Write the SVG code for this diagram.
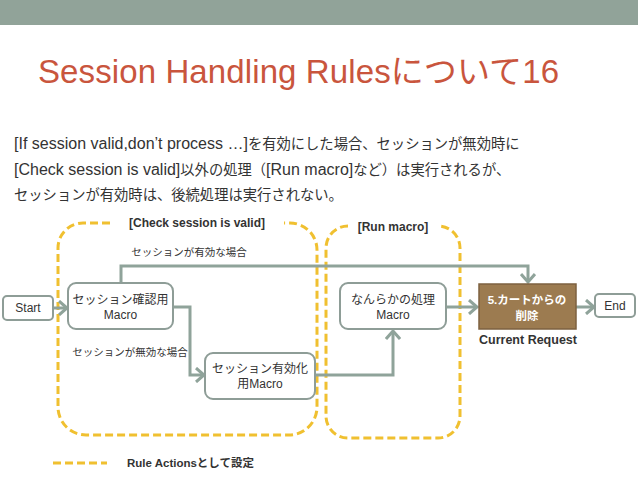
<svg xmlns="http://www.w3.org/2000/svg" width="638" height="479" viewBox="0 0 638 479">
<defs>
<style>
.t{font-family:"Liberation Sans","Noto Sans CJK JP",sans-serif;fill:#333}
.b{font-weight:bold}
.j{font-size:14.3px}
.node{fill:#fff;stroke:#8e9d97;stroke-width:2}
.conn{fill:none;stroke:#8fa39a;stroke-width:3}
.dash{fill:none;stroke:#f0c030;stroke-width:3;stroke-dasharray:8 4}
</style>
<marker id="ah" markerUnits="userSpaceOnUse" markerWidth="14" markerHeight="16" refX="10" refY="8" orient="auto">
<path d="M2,1 L10,8 L2,15" fill="none" stroke="#8fa39a" stroke-width="3"/>
</marker>
</defs>
<rect x="0" y="0" width="638" height="479" fill="#fff"/>
<rect x="0" y="0" width="638" height="25" fill="#91a399"/>
<text class="t" x="38" y="83" font-size="33" textLength="521" style="fill:#c9553d">Session Handling Rulesについて16</text>
<g class="t" font-size="16">
<text x="14" y="149">[If session valid,don’t process …]<tspan class="j">を有効にした場合、セッションが無効時に</tspan></text>
<text x="14" y="175">[Check session is valid]<tspan class="j">以外の処理（</tspan>[Run macro]<tspan class="j">など）は実行されるが、</tspan></text>
<text x="14" y="200" class="j">セッションが有効時は、後続処理は実行されない。</text>
</g>
<g id="groups">
<path class="dash" d="M110,223 H83 A25,25 0 0 0 58,248 V407 A28,28 0 0 0 86,435 H289 A28,28 0 0 0 317,407 V250 A27,27 0 0 0 290,223 H284"/>
<path class="dash" d="M348,226 A22,22 0 0 0 326,248 V416 A22,22 0 0 0 348,438 H438 A22,22 0 0 0 460,416 V248 A22,22 0 0 0 438,226"/>
<text class="t b" x="197" y="227" font-size="12" text-anchor="middle">[Check session is valid]</text>
<text class="t b" x="393" y="231" font-size="12" text-anchor="middle">[Run macro]</text>
</g>
<g id="connectors">
<path class="conn" d="M53,308 H67" marker-end="url(#ah)"/>
<path class="conn" d="M121,283 V266 H528 V282" marker-end="url(#ah)"/>
<path class="conn" d="M173,307 H190 V375 H204" marker-end="url(#ah)"/>
<path class="conn" d="M315,375 H393 V331" marker-end="url(#ah)"/>
<path class="conn" d="M446,307 H477" marker-end="url(#ah)"/>
<path class="conn" d="M576,307 H594" marker-end="url(#ah)"/>
<text class="t" x="189" y="256" font-size="10.5" text-anchor="middle">セッションが有効な場合</text>
<text class="t" x="130" y="356" font-size="10.5" text-anchor="middle">セッションが無効な場合</text>
</g>
<g id="start">
<rect class="node" x="3" y="296" width="50" height="24" rx="4"/>
<text class="t" x="28" y="312" font-size="12" text-anchor="middle">Start</text>
</g>
<g id="macro1">
<rect class="node" x="68" y="283" width="105" height="46" rx="8"/>
<text class="t" x="120.5" y="304" font-size="12" text-anchor="middle">セッション確認用</text>
<text class="t" x="120.5" y="319" font-size="12" text-anchor="middle">Macro</text>
</g>
<g id="macro2">
<rect class="node" x="205" y="353" width="110" height="46" rx="8"/>
<text class="t" x="260" y="373" font-size="12" text-anchor="middle">セッション有効化</text>
<text class="t" x="260" y="388" font-size="12" text-anchor="middle">用Macro</text>
</g>
<g id="macro3">
<rect class="node" x="340" y="283" width="106" height="46" rx="8"/>
<text class="t" x="393" y="304" font-size="12" text-anchor="middle">なんらかの処理</text>
<text class="t" x="393" y="319" font-size="12" text-anchor="middle">Macro</text>
</g>
<g id="delete">
<rect x="479" y="284" width="97" height="45" fill="#9c7b50" stroke="#7d6140" stroke-width="1.5"/>
<text class="t b" x="527" y="304" font-size="11.5" text-anchor="middle" style="fill:#fff">5.カートからの</text>
<text class="t b" x="527" y="320" font-size="11.5" text-anchor="middle" style="fill:#fff">削除</text>
<text class="t b" x="528" y="344" font-size="12.5" text-anchor="middle">Current Request</text>
</g>
<g id="end">
<rect class="node" x="595" y="294" width="40" height="23" rx="4"/>
<text class="t" x="615" y="310" font-size="12" text-anchor="middle">End</text>
</g>
<g id="legend">
<line class="dash" x1="53" y1="463" x2="107" y2="463"/>
<text class="t b" x="127" y="467" font-size="11.5">Rule Actionsとして設定</text>
</g>
</svg>
